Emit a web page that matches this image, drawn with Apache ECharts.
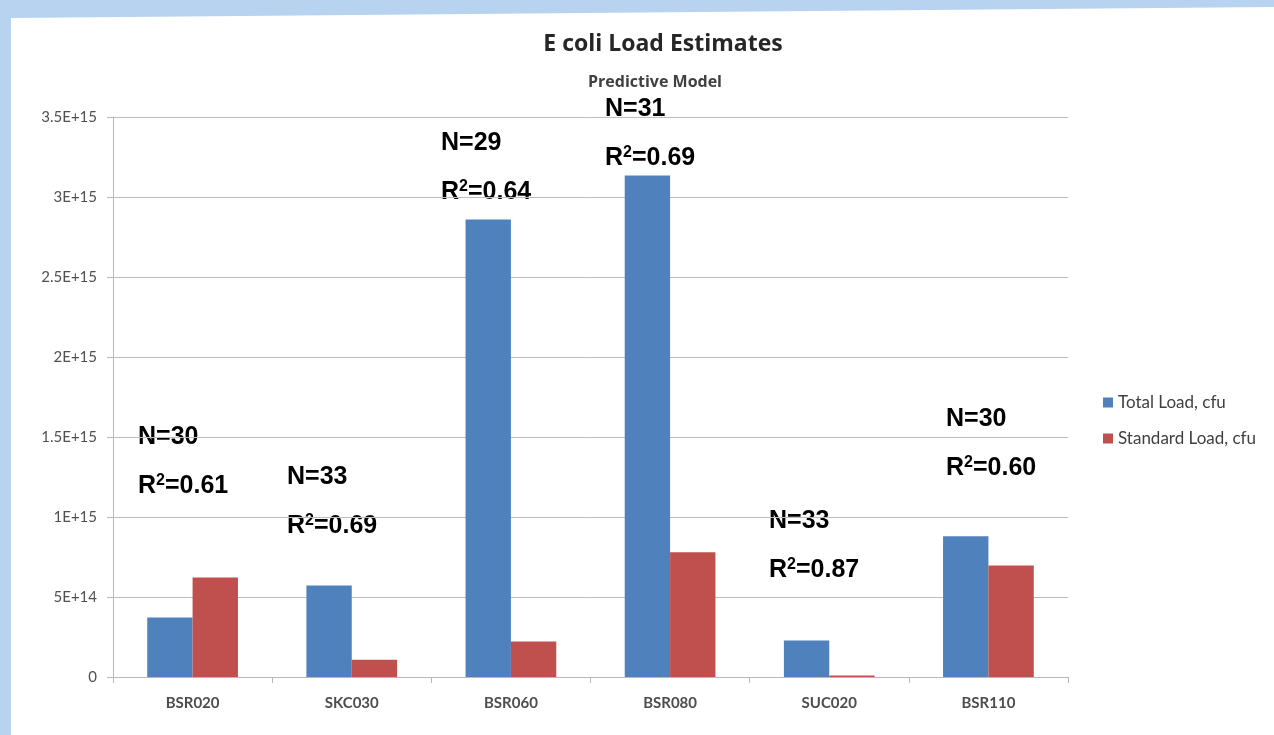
<!DOCTYPE html>
<html>
<head>
<meta charset="utf-8">
<script src="https://cdn.jsdelivr.net/npm/echarts@6/dist/echarts.min.js"></script>
<style>
  html, body { margin: 0; padding: 0; background: #b7d3ef; }
  #chart { width: 1274px; height: 735px; }
</style>
</head>
<body>
<div id="chart"></div>
<script>
// data
const sites = ['BSR020', 'SKC030', 'BSR060', 'BSR080', 'SUC020', 'BSR110']
const totalLoad = [3.72e14, 5.72e14, 2.86e15, 3.135e15, 2.28e14, 8.8e14]
const standardLoad = [6.22e14, 1.08e14, 2.22e14, 7.8e14, 1.0e13, 6.97e14]
const nCounts = ['30', '33', '29', '31', '33', '30']
const r2Values = ['0.61', '0.69', '0.64', '0.69', '0.87', '0.60']

// where the N / R² notes sit (left x, centre y of N line)
const notePos = [[138, 437], [287, 477], [441, 143], [605, 109], [769, 521], [946, 419]]

const fontLabel = 'Lato, "Liberation Sans", sans-serif'
const fontTitle = '"Open Sans", Lato, sans-serif'
const fontNote = '"Liberation Sans", Arial, sans-serif'

function sciLabel (v) {
  if (v === 0) return '0'
  return v.toExponential().toUpperCase()
}

const notes = []
notePos.forEach((p, i) => {
  notes.push({
    type: 'text',
    x: p[0],
    y: p[1],
    style: {
      text: 'N=' + nCounts[i],
      font: 'bold 25px ' + fontNote,
      fill: '#000',
      verticalAlign: 'middle'
    }
  })
  notes.push({
    type: 'text',
    x: p[0],
    y: p[1] + 49,
    style: {
      text: '{b|R}{s|2}{b|=' + r2Values[i] + '}',
      verticalAlign: 'middle',
      rich: {
        b: { font: 'bold 25px ' + fontNote, fill: '#000', lineHeight: 28 },
        s: { font: 'bold 16px ' + fontNote, fill: '#000', verticalAlign: 'top', lineHeight: 28, padding: [1, 0, 0, 0] }
      }
    }
  })
})

const options = {
  animation: false,
  backgroundColor: '#b7d3ef',
  title: [
    {
      text: 'E coli Load Estimates',
      left: 658,
      top: 28,
      textAlign: 'center',
      textStyle: { fontFamily: fontTitle, fontWeight: 'bold', fontSize: 23, color: '#262626' }
    },
    {
      text: 'Predictive Model',
      left: 650,
      top: 69,
      textAlign: 'center',
      textStyle: { fontFamily: fontTitle, fontWeight: 'bold', fontSize: 16, color: '#404040' }
    }
  ],
  legend: {
    orient: 'vertical',
    left: 1098,
    top: 389,
    itemWidth: 10,
    itemHeight: 10,
    itemGap: 19,
    icon: 'rect',
    textStyle: { fontFamily: fontLabel, fontSize: 17, color: '#404040', lineHeight: 16 }
  },
  grid: {
    left: 113,
    right: 206,
    top: 117,
    bottom: 58
  },
  xAxis: {
    type: 'category',
    data: sites,
    axisLine: { lineStyle: { color: '#b8b8b8' } },
    axisTick: { show: true, length: 6, lineStyle: { color: '#b8b8b8' } },
    axisLabel: { fontFamily: fontLabel, fontSize: 15, color: '#4d4d4d', margin: 19, fontWeight: 'bold' }
  },
  yAxis: {
    type: 'value',
    min: 0,
    max: 3.5e15,
    interval: 5e14,
    axisLine: { show: true, lineStyle: { color: '#b8b8b8' } },
    axisTick: { show: true, length: 6, lineStyle: { color: '#b8b8b8' } },
    splitLine: { lineStyle: { color: '#bdbdbd' } },
    axisLabel: { fontFamily: fontLabel, fontSize: 15, color: '#505050', margin: 16, formatter: sciLabel }
  },
  series: [
    {
      name: 'Total Load, cfu',
      type: 'bar',
      data: totalLoad,
      barGap: '0%',
      barCategoryGap: '43%',
      itemStyle: { color: '#4f81bd' }
    },
    {
      name: 'Standard Load, cfu',
      type: 'bar',
      data: standardLoad,
      itemStyle: { color: '#c0504d' }
    }
  ],
  graphic: [
    {
      type: 'polygon',
      z: -10,
      shape: { points: [[11, 18], [1274, 7], [1274, 735], [11, 735]] },
      style: { fill: '#ffffff' },
      silent: true
    },
    ...notes
  ]
}

const ChartEl = echarts.init(document.getElementById('chart'))
ChartEl.setOption(options)
</script>
</body>
</html>
